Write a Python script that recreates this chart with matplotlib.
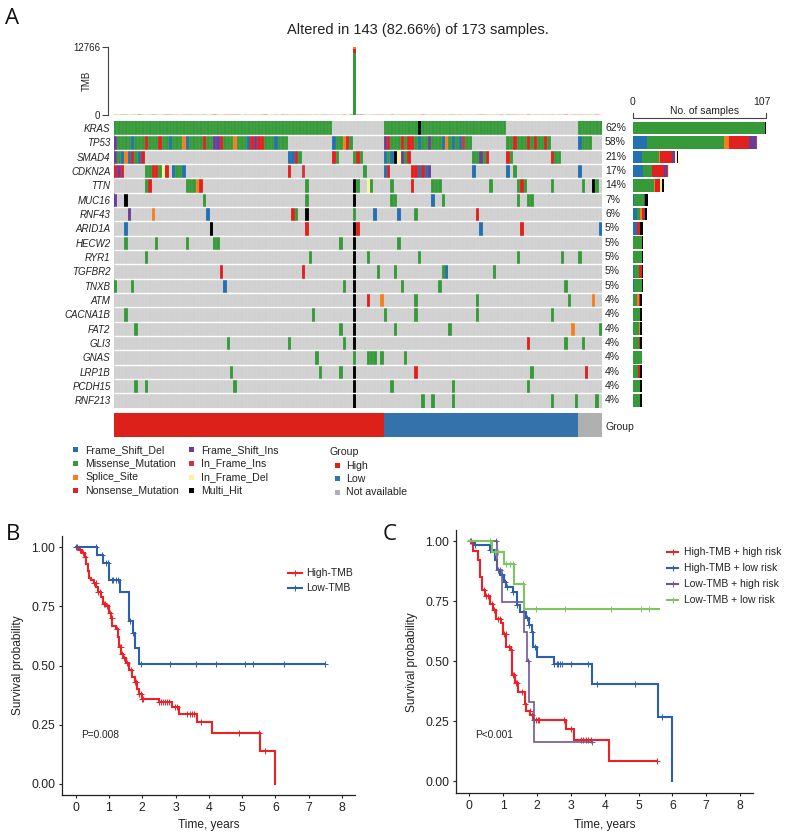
import numpy as np
import matplotlib
matplotlib.use("Agg")
import matplotlib.pyplot as plt
from matplotlib.colors import ListedColormap
from matplotlib.lines import Line2D
from matplotlib.patches import Rectangle

plt.rcParams["font.family"] = ["Liberation Sans", "DejaVu Sans"]

W, H = 788, 834
TEXT = "#222222"

# ==== Panel A data ====
n_cols = 143
genes = ["KRAS", "TP53", "SMAD4", "CDKN2A", "TTN", "MUC16", "RNF43", "ARID1A", "HECW2", "RYR1",
         "TGFBR2", "TNXB", "ATM", "CACNA1B", "FAT2", "GLI3", "GNAS", "LRP1B", "PCDH15", "RNF213"]
percents = ["62%", "58%", "21%", "17%", "14%", "7%", "6%", "5%", "5%", "5%",
            "5%", "5%", "4%", "4%", "4%", "4%", "4%", "4%", "4%", "4%"]

# sample columns per gene and mutation class
# D frameshift del, M missense, S splice, N nonsense, I frameshift ins, F inframe ins, E inframe del, X multi hit
kras = {"M": [*range(0, 64), *range(79, 89), *range(90, 115), *range(136, 143)], "X": [89]}
tp53 = {"I": [0, 29, 30, 41, 79, 92],
        "D": [5, 16, 21, 39, 47, 64, 89, 96, 99, 101, 136],
        "S": [20, 35, 67, 97],
        "N": [9, 13, 26, 31, 40, 42, 43, 68, 80, 84, 86, 87, 117, 121, 123, 126],
        "F": [102],
        "M": [1, 2, 3, 4, 6, 7, 8, 10, 11, 12, 14, 15, 17, 18, 19, 22, 23, 24, 25, 27, 28, 32, 33, 34,
              36, 37, 38, 44, 45, 46, 48, 49, 50, 65, 66, 69, 81, 82, 83, 85, 88, 90, 91, 93, 94, 95,
              98, 100, 103, 104, 115, 116, 118, 119, 120, 122, 124, 125, 127, 137, 138, 139]}
smad4 = {"I": [0, 84, 107], "M": [1, 6, 54, 65, 70, 72, 80, 85, 105, 106, 108, 116, 129, 130],
         "D": [2, 4, 7, 51, 52, 79, 81], "S": [3],
         "N": [5, 8, 53, 64, 71, 86, 109, 115, 128], "X": [82], "E": [83]}
cdkn2a = {"N": [0, 2, 11, 12, 15, 51, 80, 87, 88, 90], "I": [1, 92], "F": [55],
          "M": [9, 10, 13, 18, 19, 73, 117], "E": [14],
          "D": [17, 20, 79, 89, 91, 105, 115, 136]}
ttn = {"M": [9, 21, 22, 23, 56, 71, 75, 81, 93, 94, 95, 110, 118, 120, 128, 137, 141],
       "N": [10, 25, 87, 119], "S": [24], "X": [70, 140], "E": [74]}
muc16 = {"I": [0], "X": [3, 70], "M": [26, 56, 81, 82, 96, 118, 121, 122], "D": [93]}
rnf43 = {"I": [4], "S": [11], "D": [27, 76, 83], "N": [52, 106], "M": [53, 70, 88], "X": [56]}
arid1a = {"D": [3, 107, 142], "X": [28, 70], "N": [56, 71, 119]}
hecw2 = {"M": [3, 12, 21, 29, 30, 66, 83], "X": [70]}
ryr1 = {"M": [9, 57, 74, 89, 118, 131, 136], "X": [70]}
tgfbr2 = {"N": [31, 55], "M": [77, 82, 96, 111], "D": [97], "X": [70]}
tnxb = {"M": [0, 5, 67, 84, 95, 132], "D": [32], "X": [70]}
atm = {"N": [74], "S": [78, 140], "M": [88, 106, 133], "X": [70]}
cacna1b = {"M": [3, 58, 79, 88, 106, 128], "X": [70]}
fat2 = {"M": [6, 66, 82, 98, 142], "S": [134], "X": [70]}
gli3 = {"M": [33, 51, 67, 132, 137], "N": [121], "X": [70]}
gnas = {"M": [59, 70, 74, 75, 76, 78, 85]}
lrp1b = {"M": [34, 60, 66, 122], "N": [88, 138], "X": [70]}
pcdh15 = {"M": [6, 9, 35, 81, 99, 121], "X": [70]}
rnf213 = {"M": [90, 93, 99, 128, 135, 141], "X": [70]}
gene_calls = [kras, tp53, smad4, cdkn2a, ttn, muc16, rnf43, arid1a, hecw2, ryr1,
              tgfbr2, tnxb, atm, cacna1b, fat2, gli3, gnas, lrp1b, pcdh15, rnf213]

class_keys = ["D", "M", "S", "N", "I", "F", "E", "X"]
class_names = ["Frame_Shift_Del", "Missense_Mutation", "Splice_Site", "Nonsense_Mutation",
               "Frame_Shift_Ins", "In_Frame_Ins", "In_Frame_Del", "Multi_Hit"]
class_colors = ["#2470B0", "#379A3A", "#F57F20", "#E1201F", "#6A3D9A", "#D2343F", "#FBF39A", "#000000"]
cell_bg = "#D0D0D0"

group_names = ["High", "Low", "Not available"]
group_colors = ["#DC211B", "#3372AA", "#B0B0B0"]
group_sizes = [79, 57, 7]

# TMB: spike sample plus the tiny bars of every other sample
tmb_spike_col = 70
tmb_spike = {"M": 11580, "N": 750, "S": 436}
tmb_small = [90, 70, 100, 80, 60, 70, 90, 110, 70, 60,
             80, 100, 70, 60, 90, 110, 80, 70, 90, 70,
             60, 120, 90, 80, 70, 60, 100, 70, 90, 110,
             70, 60, 80, 100, 120, 90, 70, 60, 80, 70,
             100, 60, 70, 90, 110, 60, 70, 80, 60, 90,
             70, 80, 60, 90, 110, 70, 60, 100, 70, 80,
             70, 90, 60, 70, 80, 60, 70, 90, 60, 120,
             0, 110, 130, 100, 70, 60, 90, 70, 100, 60,
             70, 90, 60, 70, 100, 60, 80, 70, 90, 60,
             100, 70, 60, 90, 70, 80, 60, 70, 90, 110,
             70, 60, 80, 60, 90, 70, 60, 100, 120, 70,
             60, 80, 70, 90, 60, 100, 110, 70, 80, 60,
             70, 90, 60, 70, 80, 100, 60, 90, 70, 60,
             80, 70, 110, 60, 100, 70, 90, 60, 80, 70,
             60, 90, 70]
tmb_small_type = ("SSMNSMSNMS" "SMNSSMNMSS" "NSMSNSMSSN" "MSNSSMNSMS" "SNSMNSSMSN"
                  "NSMSSNMSSM" "SMNSSMSNSM" "SNMSSMSNSM" "SNSMSNSMSS" "NMSSMSNSMS"
                  "SNSMSSNMSS" "MSSNSMSNSM" "SNSMSSMSNS" "MSNSSMSNSM" "SNS")

# ==== Panel B data ====
b_high_t = [0, 0.10, 0.20, 0.27, 0.32, 0.36, 0.40, 0.45, 0.55, 0.62, 0.68, 0.75, 0.82, 0.92, 1.00, 1.05, 1.10,
            1.20, 1.27, 1.30, 1.37, 1.42, 1.50, 1.60, 1.68, 1.78, 1.85, 1.90, 2.00, 2.50, 2.90, 3.10, 3.65,
            4.10, 5.55, 5.98]
b_high_s = [1.0, 0.99, 0.975, 0.96, 0.93, 0.90, 0.87, 0.86, 0.85, 0.83, 0.81, 0.79, 0.76, 0.75, 0.72, 0.70, 0.665,
            0.655, 0.62, 0.58, 0.55, 0.53, 0.51, 0.48, 0.45, 0.43, 0.40, 0.38, 0.36, 0.345, 0.325, 0.295, 0.26,
            0.215, 0.14, 0.0]
b_high_cens = [0.05, 0.12, 0.22, 0.28, 0.55, 0.60, 0.68, 0.72, 0.85, 0.88, 0.95, 1.02, 1.08, 1.25, 1.32, 1.35,
               1.40, 1.45, 1.55, 1.65, 1.78, 1.82, 1.90, 1.95, 2.00, 2.03, 2.50, 2.57, 2.62, 2.68, 2.73, 2.80,
               2.97, 3.05, 3.35, 3.42, 3.50, 3.55, 3.78, 4.90, 5.50, 5.70]
b_low_t = [0, 0.63, 0.83, 1.00, 1.33, 1.61, 1.71, 1.78, 1.91, 7.50]
b_low_s = [1.0, 0.967, 0.935, 0.862, 0.81, 0.69, 0.636, 0.573, 0.508, 0.508]
b_low_cens = [0.02, 0.62, 0.80, 0.90, 0.97, 1.08, 1.13, 1.20, 1.27, 1.62, 1.72, 1.97, 2.84, 3.62, 4.22, 5.08,
              5.32, 6.27, 7.50]

# ==== Panel C data ====
c_hh_t = [0, 0.12, 0.27, 0.33, 0.38, 0.46, 0.60, 0.70, 0.80, 0.95, 1.00, 1.10, 1.22, 1.27, 1.35, 1.43, 1.64, 1.69,
          1.81, 1.89, 2.87, 3.10, 4.12, 5.55]
c_hh_s = [1.0, 0.96, 0.92, 0.853, 0.797, 0.772, 0.74, 0.714, 0.675, 0.658, 0.614, 0.56, 0.547, 0.443, 0.408, 0.374,
          0.322, 0.293, 0.276, 0.256, 0.217, 0.172, 0.086, 0.086]
c_hh_cens = [0.03, 0.45, 0.50, 0.55, 0.68, 0.72, 0.85, 0.90, 1.02, 1.08, 1.18, 1.22, 1.30, 1.33, 1.38, 1.42, 1.57,
             1.64, 1.80, 1.85, 1.92, 1.98, 2.02, 2.07, 2.80, 3.00, 3.30, 3.37, 3.45, 3.52, 3.60, 5.55]
c_hl_t = [0, 0.17, 0.61, 0.76, 0.83, 0.92, 1.02, 1.10, 1.28, 1.40, 1.50, 1.69, 1.76, 1.84, 1.89, 2.00, 2.50, 3.64,
          5.57, 5.98]
c_hl_s = [1.0, 0.986, 0.964, 0.92, 0.88, 0.86, 0.832, 0.811, 0.79, 0.735, 0.707, 0.68, 0.651, 0.62, 0.558, 0.519,
          0.488, 0.404, 0.269, 0.0]
c_hl_cens = [0.05, 0.17, 0.62, 0.85, 0.90, 0.97, 1.05, 1.12, 1.30, 1.42, 1.71, 1.78, 1.86, 1.93, 2.50, 2.58, 2.63,
             2.68, 2.74, 3.02, 3.50, 3.76, 4.90, 5.70]
c_lh_t = [0, 0.83, 0.98, 1.62, 1.70, 1.76, 1.91, 3.63]
c_lh_s = [1.0, 0.88, 0.749, 0.624, 0.50, 0.332, 0.165, 0.165]
c_lh_cens = [0.78, 1.75, 3.63]
c_ll_t = [0, 0.66, 1.02, 1.33, 1.63, 5.61]
c_ll_s = [1.0, 0.954, 0.904, 0.82, 0.717, 0.717]
c_ll_cens = [0.60, 0.75, 0.85, 1.10, 1.20, 1.30, 1.60, 1.97, 2.83, 4.20, 5.08, 5.30]

RED, BLUE, PURPLE, GREEN = "#EE1F25", "#2C5FAE", "#6F5797", "#7DC55E"
y_ticks = [0, 0.25, 0.5, 0.75, 1.0]
y_tick_labels = ["0.00", "0.25", "0.50", "0.75", "1.00"]


def axes_px(x0, y0, x1, y1):
    # axes from pixel box of the 788x834 picture
    return fig.add_axes([x0 / W, 1 - y1 / H, (x1 - x0) / W, (y1 - y0) / H])


def put_text(x, y, s, **kw):
    kw.setdefault("va", "center")
    kw.setdefault("color", TEXT)
    fig.text(x / W, 1 - y / H, s, **kw)


def square(x, y, color, size=5):
    fig.add_artist(Rectangle(((x - size / 2) / W, 1 - (y + size / 2) / H), size / W, size / H,
                             transform=fig.transFigure, color=color, lw=0))


def km_curve(ax, t, s, cens, color, lw):
    t = np.array(t)
    s = np.array(s)
    ax.step(t, s, where="post", color=color, lw=lw, solid_joinstyle="miter")
    c = np.array(cens)
    ax.plot(c, s[np.searchsorted(t, c, side="right") - 1], "+", color=color, ms=5, mew=0.7)


def km_axes(box, xlim, ylim, xpad):
    ax = axes_px(*box)
    ax.set_xlim(*xlim)
    ax.set_ylim(*ylim)
    ax.spines[["top", "right"]].set_visible(False)
    ax.spines[["left", "bottom"]].set_linewidth(0.9)
    ax.spines[["left", "bottom"]].set_color(TEXT)
    ax.set_xticks(range(9))
    ax.set_yticks(y_ticks, y_tick_labels)
    ax.tick_params(labelsize=8.8, length=2.5, width=0.8, color=TEXT, labelcolor=TEXT, pad=2.5)
    ax.set_xlabel("Time, years", fontsize=8.6, color=TEXT, labelpad=xpad)
    ax.set_ylabel("Survival probability", fontsize=8.6, color=TEXT, labelpad=5)
    return ax


def km_legend(x0, x1, xt, ys, labels, colors):
    for y, lab, col in zip(ys, labels, colors):
        fig.add_artist(Line2D([x0 / W, x1 / W], [1 - y / H] * 2, color=col, lw=1.5,
                              marker="None", transform=fig.transFigure))
        fig.add_artist(Line2D([(x0 + x1) / 2 / W], [1 - y / H], color=col, marker="+", ms=5, mew=0.7,
                              transform=fig.transFigure))
        put_text(xt, y, lab, fontsize=7.5)


fig = plt.figure(figsize=(W / 100, H / 100), dpi=100)

# ==== A: TMB bars ====
ax = axes_px(114, 47, 602, 115)
cols = np.arange(n_cols)
small_bars = ax.bar(cols, tmb_small, width=1, align="edge", lw=0,
                    color=[class_colors[class_keys.index(k)] for k in tmb_small_type], alpha=0.7)
for b in small_bars:
    b.set_snap(False)
bottom = 0
for k, v in tmb_spike.items():
    ax.bar(tmb_spike_col, v, width=1, bottom=bottom, align="edge", lw=0, color=class_colors[class_keys.index(k)])
    bottom += v
ax.set_xlim(0, n_cols)
ax.set_ylim(0, 12766)
ax.set_xticks([])
ax.set_yticks([0, 12766], ["0", "12766"])
ax.spines[["top", "right", "bottom"]].set_visible(False)
ax.spines["left"].set_position(("outward", 4.5))
ax.spines["left"].set_color("#444444")
ax.tick_params(labelsize=7, length=4, width=0.8, color="#444444", labelcolor=TEXT, pad=1.5)
ax.patch.set_alpha(0)
put_text(87, 81, "TMB", fontsize=7, rotation=90, ha="center")
put_text(417.5, 30, "Altered in 143 (82.66%) of 173 samples.", fontsize=10.5, ha="center")

# ==== A: mutation matrix ====
matrix = np.zeros((len(genes), n_cols))
for i, calls in enumerate(gene_calls):
    for k, where in calls.items():
        matrix[i, where] = class_keys.index(k) + 1
ax = axes_px(114, 121, 602, 407.6)
ax.imshow(matrix, cmap=ListedColormap([cell_bg] + class_colors), vmin=0, vmax=8, aspect="auto",
          interpolation="nearest", extent=(0, n_cols, len(genes), 0))
ax.vlines(np.arange(1, n_cols), 0, len(genes), color="white", lw=0.3, alpha=0.22)
ax.hlines(np.arange(1, len(genes)), 0, n_cols, color="white", lw=1.0)
ax.set_yticks(np.arange(len(genes)) + 0.5, genes, fontsize=7, style="italic", color=TEXT)
ax.set_xticks([])
ax.tick_params(length=0, pad=2.5)
for s in ax.spines.values():
    s.set_visible(False)
for i, p in enumerate(percents):
    put_text(605, 121 + (i + 0.5) * 14.33, p, fontsize=7.5)

# ==== A: counts per gene ====
ax = axes_px(633, 121, 766, 407.6)
for i, calls in enumerate(gene_calls):
    left = 0
    for k, col in zip(class_keys, class_colors):
        c = len(calls.get(k, []))
        ax.barh(i + 0.5, c, left=left, height=0.88, color=col, lw=0)
        left += c
ax.set_xlim(0, 107)
ax.set_ylim(len(genes), 0)
ax.axis("off")
fig.add_artist(Line2D(np.array([633, 633, 766, 766]) / W, 1 - np.array([113, 118, 118, 113]) / H,
                      color="#444444", lw=0.8, transform=fig.transFigure))
put_text(633, 102, "0", fontsize=7.5, ha="center")
put_text(762, 102, "107", fontsize=7.5, ha="center")
put_text(705, 111, "No. of samples", fontsize=7.5, ha="center")

# ==== A: group bar ====
ax = axes_px(114, 413, 602, 437.3)
left = 0
for size, col in zip(group_sizes, group_colors):
    ax.barh(0, size, left=left, height=1, color=col, lw=0)
    left += size
ax.set_xlim(0, n_cols)
ax.set_ylim(-0.5, 0.5)
ax.axis("off")
put_text(606, 427, "Group", fontsize=7.5)

# ==== A: legends ====
legend_y = [450, 463, 477, 490]
for j, (name, col) in enumerate(zip(class_names, class_colors)):
    x = 75.5 if j < 4 else 191
    square(x, legend_y[j % 4], col, 5)
    put_text(x + 10, legend_y[j % 4], name, fontsize=7.6)
put_text(329, 452.5, "Group", fontsize=7.6)
for y, name, col in zip([466, 479, 492], group_names, group_colors):
    square(337, y, col, 5)
    put_text(346.5, y, name, fontsize=7.6)

# ==== B ====
ax = km_axes((62.3, 535.7, 355, 795.3), (-0.40, 8.39), (-0.049, 1.049), 3.5)
km_curve(ax, b_high_t, b_high_s, b_high_cens, RED, 1.5)
km_curve(ax, b_low_t, b_low_s, b_low_cens, BLUE, 1.5)
km_legend(288, 302, 306, [572.7, 588], ["High-TMB", "Low-TMB"], [RED, BLUE])
put_text(81, 735, "P=0.008", fontsize=7.3)

# ==== C ====
ax = km_axes((456, 530, 753.3, 793.3), (-0.39, 8.39), (-0.05, 1.047), 5)
km_curve(ax, c_hh_t, c_hh_s, c_hh_cens, RED, 1.5)
km_curve(ax, c_hl_t, c_hl_s, c_hl_cens, BLUE, 1.5)
km_curve(ax, c_lh_t, c_lh_s, c_lh_cens, PURPLE, 1.2)
km_curve(ax, c_ll_t, c_ll_s, c_ll_cens, GREEN, 1.5)
km_legend(667, 678, 684, [552, 568, 584, 600],
          ["High-TMB + high risk", "High-TMB + low risk", "Low-TMB + high risk", "Low-TMB + low risk"],
          [RED, BLUE, PURPLE, GREEN])
put_text(475, 735, "P<0.001", fontsize=7.3)

# panel letters
for x, y, s in [(5, 19, "A"), (6, 535, "B"), (383, 535, "C")]:
    put_text(x, y, s, fontsize=16, family="Open Sans", color="#111111")

fig.savefig("out.png", dpi=100)
